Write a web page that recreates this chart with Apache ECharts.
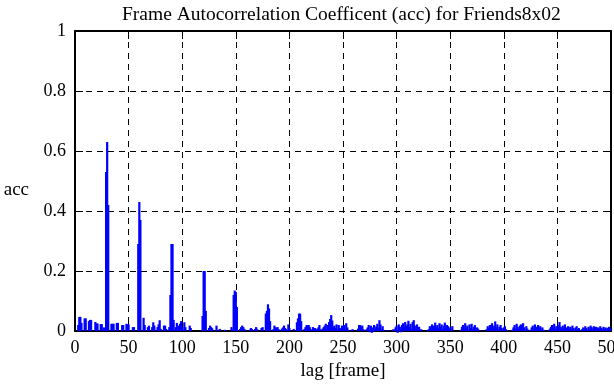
<!DOCTYPE html>
<html>
<head>
<meta charset="utf-8">
<script src="https://cdn.jsdelivr.net/npm/echarts@6/dist/echarts.min.js"></script>
<style>
    html, body { margin: 0; padding: 0; background: #fff; }
    #main { width: 614px; height: 385px; }
</style>
</head>
<body>
<div id="main"></div>
<script>
// 自相关系数 acc，lag 从 1 到 500
var lagStart = 1;
var accValues = [
    0, 0, 0.02, 0.047, 0.047, 0.027, 0, 0, 0.042, 0.042,
    0, 0, 0.033, 0.037, 0.037, 0, 0, 0, 0.03, 0.025,
    0.025, 0, 0, 0.023, 0.023, 0, 0.012, 0, 0.53, 0.63,
    0.42, 0, 0, 0.024, 0.024, 0.024, 0, 0, 0.027, 0.027,
    0, 0, 0, 0.02, 0.02, 0, 0, 0.024, 0.022, 0.022,
    0, 0, 0, 0.013, 0.013, 0, 0, 0, 0.29, 0.43,
    0.37, 0, 0, 0.044, 0.02, 0, 0, 0.013, 0.018, 0,
    0, 0.013, 0.029, 0.018, 0, 0, 0.013, 0.022, 0.036, 0.007,
    0, 0, 0.018, 0.018, 0.007, 0, 0, 0.013, 0.12, 0.29,
    0.29, 0.037, 0, 0.013, 0.027, 0, 0.018, 0.024, 0.033, 0.013,
    0, 0.029, 0.013, 0, 0, 0, 0.018, 0.01, 0, 0,
    0, 0, 0, 0, 0, 0, 0, 0, 0.05, 0.2,
    0.2, 0.067, 0, 0, 0.01, 0.018, 0.013, 0.009, 0, 0,
    0, 0.018, 0, 0, 0.007, 0, 0, 0, 0, 0.004,
    0, 0, 0, 0, 0, 0.013, 0, 0.12, 0.135, 0.13,
    0.08, 0, 0, 0.007, 0.013, 0.018, 0.013, 0.007, 0, 0,
    0, 0, 0.004, 0.01, 0.007, 0, 0, 0.007, 0.013, 0.006,
    0, 0, 0, 0.01, 0.013, 0, 0, 0.058, 0.067, 0.089,
    0.075, 0.033, 0, 0, 0.006, 0.018, 0.013, 0.01, 0.013, 0.006,
    0, 0, 0.008, 0.012, 0.018, 0.01, 0.006, 0, 0.022, 0.01,
    0, 0, 0, 0.007, 0, 0, 0.029, 0.042, 0.058, 0.058,
    0.033, 0, 0, 0.007, 0.013, 0.02, 0.018, 0.02, 0.013, 0.006,
    0, 0.013, 0.006, 0.01, 0.004, 0.007, 0.012, 0.02, 0.006, 0,
    0.008, 0.013, 0.018, 0.024, 0.008, 0.02, 0.03, 0.04, 0.053, 0.035,
    0.013, 0.018, 0.01, 0.022, 0.006, 0.02, 0.01, 0.006, 0.018, 0.008,
    0.02, 0.008, 0.026, 0.012, 0.004, 0, 0, 0.004, 0.006, 0,
    0, 0, 0, 0.008, 0.02, 0.02, 0.013, 0.018, 0.006, 0,
    0, 0.006, 0.012, 0.02, -0.004, 0.018, -0.006, 0.012, 0.02, 0.008,
    0.015, 0.024, 0.01, 0.036, 0.022, 0.006, 0.016, 0.004, 0, 0,
    0, 0.003, 0, 0, 0, 0, 0.006, 0.004, 0.012, 0.018,
    -0.006, 0.022, 0.014, -0.004, 0.02, 0.026, 0.012, 0.03, 0.016, 0.022,
    0.034, 0.014, 0.024, 0.006, 0.03, 0.036, 0.018, 0.01, 0.022, 0.008,
    0.014, 0.004, 0.006, 0, 0, 0, 0, 0.002, 0, 0.006,
    0.016, 0.01, 0.022, 0.006, 0.018, 0.028, 0.012, 0.02, 0.008, 0.026,
    0.014, 0.022, 0.006, 0.018, 0.028, 0.01, 0.02, 0.016, 0.006, 0.012,
    0.004, 0.016, 0, 0, 0, 0, 0, 0, 0, 0.004,
    0.014, 0.02, 0.008, 0.026, 0.012, 0.018, 0.004, 0.022, 0.01, 0.024,
    0.006, 0.014, 0.02, 0.004, 0.012, 0.008, 0, 0.003, 0, 0,
    0, 0, 0, 0.006, 0.016, 0.01, 0.02, 0.014, 0.026, 0.008,
    0.018, 0.032, 0.012, 0.022, 0.006, 0.014, 0.02, 0.01, 0.004, 0.012,
    0.016, 0.006, 0.002, 0, 0, 0, 0, 0.004, 0.012, 0.02,
    0.008, 0.024, 0.014, 0.006, 0.018, 0.022, 0.01, 0.026, 0.012, 0.004,
    0.016, 0.008, 0.002, 0, 0.004, 0.012, 0.018, 0.008, 0.022, 0.014,
    0.006, 0.02, 0.01, 0.016, 0.006, 0.012, 0.004, 0.002, 0, 0,
    0, 0.003, 0.008, 0.014, 0.02, 0.01, 0.024, 0.006, 0.016, 0.012,
    0.02, 0.03, 0.014, 0.008, 0.018, 0.01, 0.022, 0.006, 0.012, 0.016,
    0.008, 0.014, 0.006, 0.018, 0.01, 0.004, 0.012, 0.016, 0.006, 0.01,
    0.004, 0.002, 0.006, 0.012, 0.008, 0.016, 0.01, 0.004, 0.014, 0.008,
    0.018, 0.012, 0.006, 0.016, 0.01, 0.014, 0.004, 0.012, 0.008, 0.016,
    0.01, 0.006, 0.014, 0.008, 0.012, 0.004, 0.01, 0.014, 0.006, 0.008
];
var xTicks = [0, 50, 100, 150, 200, 250, 300, 350, 400, 450, 500];
var yTicks = [0, 0.2, 0.4, 0.6, 0.8, 1];

var titleText = 'Frame Autocorrelation Coefficent (acc) for Friends8x02';
var FONT = 'Liberation Serif';

function buildData() {
    var list = [];
    accValues.forEach(function (v, i) {
        list.push([lagStart + i, v]);
    });
    return list;
}

function frameAxis(opt) {
    // 黑色边框 + 内刻度
    var base = {
        axisLine: { show: true, onZero: false, lineStyle: { color: '#000', width: 2 } },
        axisTick: { show: true, inside: true, length: 8, lineStyle: { color: '#000', width: 1 } },
        splitLine: { show: false },
        axisLabel: { show: false }
    };
    for (var k in opt) base[k] = opt[k];
    return base;
}

var chart = echarts.init(document.getElementById('main'), null, { renderer: 'canvas' });

var option = {
    animation: false,
    backgroundColor: '#fff',
    title: {
        text: titleText,
        left: 117,
        top: 0,
        textStyle: { fontFamily: FONT, fontSize: 19.5, fontWeight: 'normal', color: '#000' }
    },
    grid: { left: 75, right: 3, top: 31, bottom: 54, containLabel: false, outerBoundsMode: 'none' },
    xAxis: [
        frameAxis({
            type: 'value', position: 'bottom', min: xTicks[0], max: xTicks[xTicks.length - 1], interval: 50,
            name: 'lag [frame]', nameLocation: 'middle', nameGap: 29,
            nameTextStyle: { fontFamily: FONT, fontSize: 19, color: '#000' },
            axisLabel: { show: true, margin: 8, fontFamily: FONT, fontSize: 18, color: '#000' },
            splitLine: { show: true, lineStyle: { color: '#000', type: [6, 5], width: 1 } }
        }),
        frameAxis({ type: 'value', position: 'top', min: 0, max: 500, interval: 50 })
    ],
    yAxis: [
        frameAxis({
            type: 'value', position: 'left', min: yTicks[0], max: yTicks[yTicks.length - 1], interval: 0.2,
            name: 'acc', nameLocation: 'middle', nameGap: 46, nameRotate: 0,
            nameTextStyle: { fontFamily: FONT, fontSize: 19, color: '#000', verticalAlign: 'top' },
            axisLabel: {
                show: true, margin: 9, fontFamily: FONT, fontSize: 18, color: '#000',
                formatter: function (v) { return String(Math.round(v * 10) / 10); }
            },
            splitLine: { show: true, lineStyle: { color: '#000', type: [6, 5], width: 1 } }
        }),
        frameAxis({ type: 'value', position: 'right', min: 0, max: 1, interval: 0.2 })
    ],
    series: [{
        type: 'bar',
        xAxisIndex: 0,
        yAxisIndex: 0,
        data: buildData(),
        barWidth: 2.2,
        clip: false,
        itemStyle: { color: '#0000ff' },
        silent: true,
        z: 1
    }]
};

chart.setOption(option);
</script>
</body>
</html>
